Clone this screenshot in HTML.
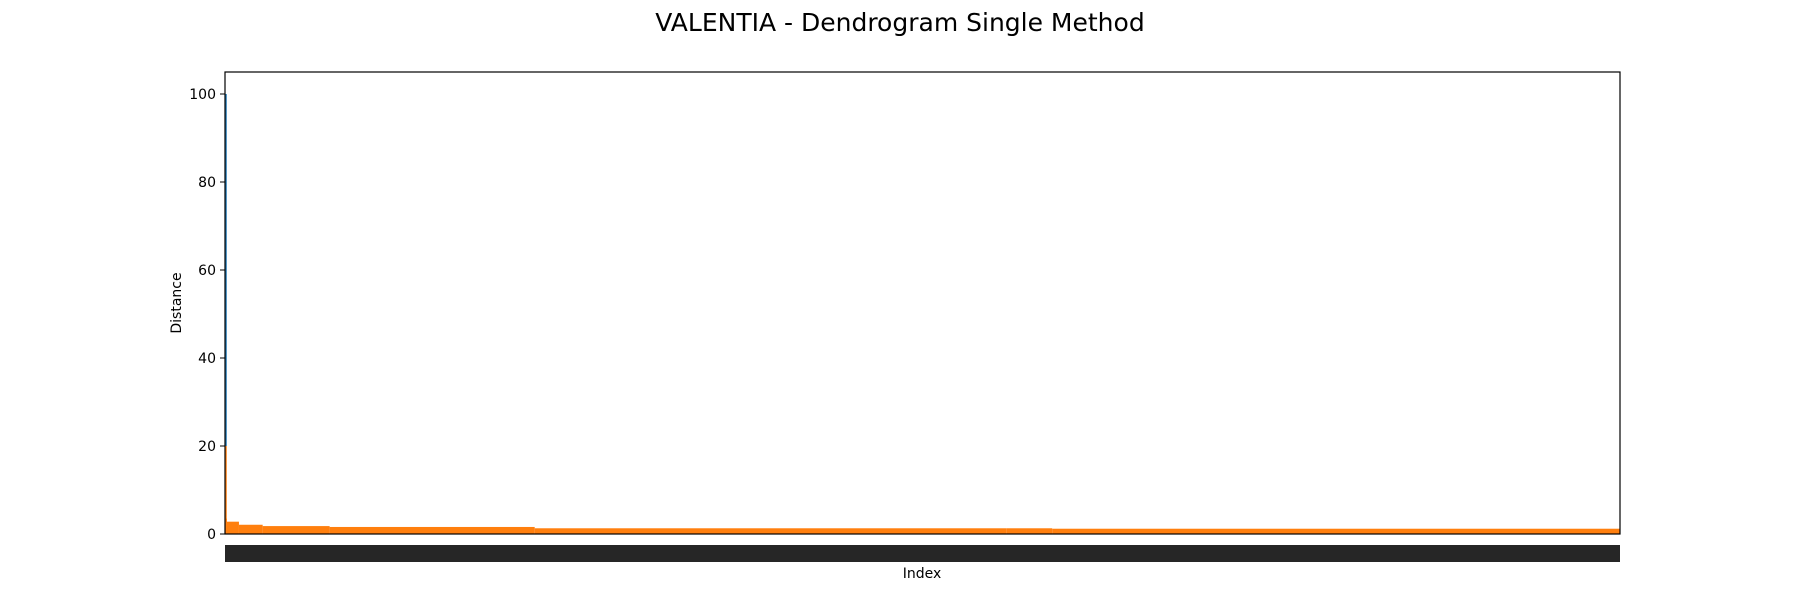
<!DOCTYPE html>
<html><head><meta charset="utf-8"><style>
body{margin:0;background:#fff;}
svg text{font-family:"DejaVu Sans","Liberation Sans",sans-serif;}
</style></head><body>
<svg id="chart" width="1800" height="600" xmlns="http://www.w3.org/2000/svg">
<text x="900" y="31" font-size="25" text-anchor="middle" fill="#000">VALENTIA - Dendrogram Single Method</text>
<g id="marks"></g>
<g id="yaxis"></g>
<rect x="225" y="545" width="1395" height="17" fill="#262626"/>
<rect x="225" y="72" width="1395" height="462" fill="none" stroke="#000" stroke-width="1.2"/>
<text x="922" y="578" font-size="14" text-anchor="middle">Index</text>
<text transform="translate(181,303) rotate(-90)" font-size="14" text-anchor="middle">Distance</text>
</svg>
<script>
const segStart=[0,1.4,10,27,75,222,560,593];
const segEnd=[1.4,10,27,75,222,560,593,1000];
const segHeight=[3.5,2.8,2.1,1.8,1.6,1.3,1.3,1.2];
const rootHeight=100;
const orangeTop=20;
const yTicks=[0,20,40,60,80,100];
const N=1000;
const X0=225,X1=1620,Y0=534,YT=72,YMAX=105;
const sx=i=>X0+i/N*(X1-X0);
const sy=v=>Y0-v/YMAX*(Y0-YT);
const ns='http://www.w3.org/2000/svg';
const marks=document.getElementById('marks');
for(let k=0;k<segStart.length;k++){
  const r=document.createElementNS(ns,'rect');
  
  
  r.setAttribute('x',sx(segStart[k]));
  r.setAttribute('y',sy(segHeight[k]));
  r.setAttribute('width',sx(segEnd[k])-sx(segStart[k]));
  r.setAttribute('height',Y0-sy(segHeight[k]));
  r.setAttribute('fill','#ff7f0e');
  marks.appendChild(r);
}
const lo=document.createElementNS(ns,'line');


lo.setAttribute('x1',X0+1);lo.setAttribute('x2',X0+1);
lo.setAttribute('y1',Y0);lo.setAttribute('y2',sy(orangeTop));
lo.setAttribute('stroke','#ff7f0e');lo.setAttribute('stroke-width','1.5');
marks.appendChild(lo);
const lb=document.createElementNS(ns,'line');


lb.setAttribute('x1',X0+1);lb.setAttribute('x2',X0+1);
lb.setAttribute('y1',sy(orangeTop));lb.setAttribute('y2',sy(rootHeight));
lb.setAttribute('stroke','#1f77b4');lb.setAttribute('stroke-width','1.5');
marks.appendChild(lb);
const ya=document.getElementById('yaxis');
yTicks.forEach(v=>{
  const t=document.createElementNS(ns,'line');
  
  
  t.setAttribute('x1',X0-5);t.setAttribute('x2',X0);
  t.setAttribute('y1',sy(v));t.setAttribute('y2',sy(v));
  t.setAttribute('stroke','#000');
  ya.appendChild(t);
  const l=document.createElementNS(ns,'text');
  
  
  l.setAttribute('x',X0-9);l.setAttribute('y',sy(v)+5);
  l.setAttribute('text-anchor','end');l.setAttribute('font-size','14');
  l.textContent=v;
  ya.appendChild(l);
});
</script>
</body></html>
